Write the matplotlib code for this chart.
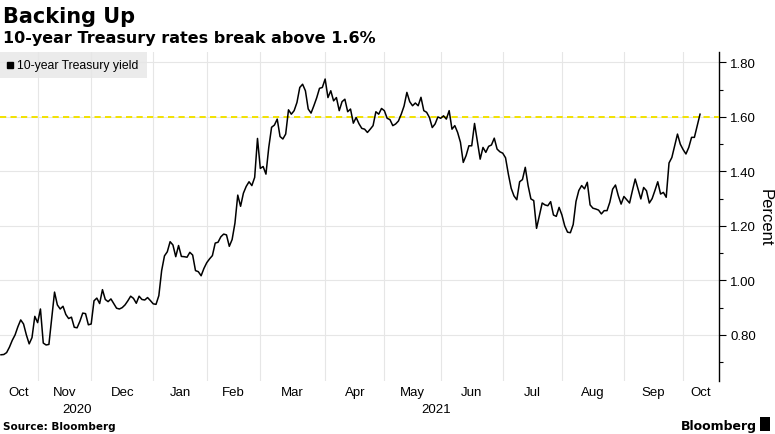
import matplotlib
matplotlib.use("Agg")
import matplotlib.pyplot as plt
from matplotlib import font_manager
from matplotlib.patches import Rectangle
from matplotlib.transforms import blended_transform_factory

# daily 10-year Treasury yield (%), one list per month, trading days only
oct20 = [0.727, 0.728, 0.735, 0.755, 0.78, 0.80, 0.83, 0.855, 0.84, 0.80,
         0.767, 0.79, 0.868]
nov20 = [0.845, 0.895, 0.77, 0.763, 0.765, 0.86, 0.957, 0.91, 0.895, 0.905,
         0.875, 0.86, 0.865, 0.828, 0.826, 0.85, 0.88, 0.878, 0.837]
dec20 = [0.84, 0.925, 0.935, 0.915, 0.966, 0.93, 0.922, 0.932, 0.915, 0.898,
         0.895, 0.90, 0.91, 0.925, 0.942, 0.934, 0.916, 0.942, 0.930, 0.928,
         0.937, 0.926]
jan21 = [0.914, 0.912, 0.944, 1.036, 1.09, 1.105, 1.142, 1.130, 1.087, 1.128,
         1.088, 1.087, 1.085, 1.103, 1.093, 1.036, 1.032, 1.017, 1.044]
feb21 = [1.065, 1.079, 1.091, 1.137, 1.140, 1.16, 1.170, 1.167, 1.125, 1.150,
         1.21, 1.313, 1.272, 1.32, 1.345, 1.362, 1.348, 1.378, 1.521]
mar21 = [1.411, 1.418, 1.39, 1.488, 1.562, 1.570, 1.592, 1.528, 1.519, 1.537,
         1.626, 1.610, 1.623, 1.653, 1.708, 1.720, 1.696, 1.629, 1.614, 1.641,
         1.67, 1.705, 1.708]
apr21 = [1.739, 1.671, 1.696, 1.659, 1.671, 1.623, 1.656, 1.665, 1.619, 1.629,
         1.577, 1.598, 1.575, 1.558, 1.555, 1.543, 1.555, 1.568, 1.619, 1.610,
         1.631]
may21 = [1.623, 1.595, 1.590, 1.568, 1.574, 1.585, 1.610, 1.64, 1.690, 1.656,
         1.641, 1.651, 1.641, 1.672, 1.623, 1.617, 1.598, 1.561, 1.574, 1.600]
jun21 = [1.595, 1.604, 1.592, 1.623, 1.555, 1.568, 1.543, 1.507, 1.433, 1.458,
         1.494, 1.494, 1.576, 1.51, 1.445, 1.488, 1.470, 1.492, 1.497, 1.522,
         1.482, 1.472]
jul21 = [1.467, 1.45, 1.39, 1.338, 1.31, 1.296, 1.362, 1.370, 1.415, 1.348,
         1.299, 1.293, 1.191, 1.238, 1.284, 1.277, 1.274, 1.289, 1.240, 1.235,
         1.268]
aug21 = [1.24, 1.20, 1.177, 1.175, 1.205, 1.29, 1.33, 1.348, 1.336, 1.360,
         1.277, 1.265, 1.262, 1.258, 1.244, 1.256, 1.256, 1.287, 1.335, 1.350,
         1.311, 1.280]
sep21 = [1.308, 1.296, 1.284, 1.329, 1.372, 1.335, 1.299, 1.341, 1.329, 1.284,
         1.30, 1.33, 1.362, 1.317, 1.323, 1.305, 1.431, 1.451, 1.494, 1.537,
         1.50]
oct21 = [1.48, 1.464, 1.488, 1.525, 1.525, 1.567, 1.610]

MONTHS = [oct20, nov20, dec20, jan21, feb21, mar21, apr21, may21, jun21,
          jul21, aug21, sep21, oct21]
MONTH_LABELS = ["Oct", "Nov", "Dec", "Jan", "Feb", "Mar", "Apr", "May",
                "Jun", "Jul", "Aug", "Sep", "Oct"]
YEAR_LABELS = ["2020", "2021"]
Y_TICKS = [0.80, 1.00, 1.20, 1.40, 1.60, 1.80]
Y_MINOR = [0.70, 0.90, 1.10, 1.30, 1.50, 1.70]
THRESHOLD = 1.60

# Bloomberg's axis face is narrow; take the narrowest installed match
available = {f.name for f in font_manager.fontManager.ttflist}
NARROW = "Liberation Sans"
for name in ("Liberation Sans Narrow", "Liberation Sans", "DejaVu Sans"):
    if name in available:
        NARROW = name
        break

yields = [v for m in MONTHS for v in m]
x = list(range(len(yields)))
starts = []
pos = 0
for m in MONTHS:
    starts.append(pos)
    pos += len(m)

XMIN, XMAX = -0.35, 254.8

fig = plt.figure(figsize=(7.75, 4.35), dpi=100)
ax = fig.add_axes([0.0, 0.122, 0.928, 0.756])

ax.plot(x, yields, color="black", lw=1.1, zorder=4, solid_joinstyle="round")
ax.axhline(THRESHOLD, color="#f2e200", lw=1.4, dashes=(3.2, 2.2), zorder=3)

ax.set_xlim(XMIN, XMAX)
ax.set_ylim(0.631, 1.838)

# month gridlines at first trading day, labels centred within month
ax.set_xticks(starts[1:])
ax.set_xticklabels([])
bounds = [XMIN] + starts[1:] + [XMAX]
centers = [(bounds[i] + bounds[i + 1]) / 2 for i in range(len(MONTHS))]
ax.set_xticks(centers, minor=True)
ax.set_xticklabels(MONTH_LABELS, minor=True, family=NARROW, fontsize=9.5)
ax.tick_params(axis="x", which="both", length=0, pad=4)

ax.yaxis.tick_right()
ax.set_yticks(Y_TICKS)
ax.set_yticklabels([f"{v:.2f}" for v in Y_TICKS], family=NARROW,
                   fontsize=9.5)
ax.set_yticks(Y_MINOR, minor=True)
ax.tick_params(axis="y", which="major", length=5, width=0.8, pad=3)
ax.tick_params(axis="y", which="minor", length=3, width=0.8)

ax.grid(True, which="major", color="#e6e6e6", lw=0.8)
ax.set_axisbelow(True)
for s in ("top", "left", "bottom"):
    ax.spines[s].set_visible(False)
ax.spines["right"].set_linewidth(1.0)

# year labels under the month row
trans = blended_transform_factory(ax.transData, ax.transAxes)
ax.text((XMIN + starts[3]) / 2, -0.068, YEAR_LABELS[0], transform=trans,
        ha="center", va="top", family=NARROW, fontsize=9.5)
ax.text((starts[3] + XMAX) / 2, -0.068, YEAR_LABELS[1], transform=trans,
        ha="center", va="top", family=NARROW, fontsize=9.5)

# legend strip in the top-left corner
ax.add_patch(Rectangle((0, 0.921), 0.2045, 0.079, transform=ax.transAxes,
                       facecolor="#ebebeb", edgecolor="none", zorder=0))
ax.plot([0.0133], [0.96], marker="s", ms=5, color="black",
        transform=ax.transAxes, zorder=5, clip_on=False)
ax.text(0.023, 0.96, "10-year Treasury yield", transform=ax.transAxes,
        ha="left", va="center", family=NARROW, fontsize=8.8, zorder=5)

fig.text(0.987, 0.5, "Percent", rotation=270, family=NARROW, fontsize=12,
         ha="center", va="center")
fig.text(0.004, 0.948, "Backing Up", fontsize=15, fontweight="bold",
         ha="left", va="baseline")
fig.text(0.004, 0.900, "10-year Treasury rates break above 1.6%",
         fontsize=11.5, fontweight="bold", ha="left", va="baseline")
fig.text(0.004, 0.012, "Source: Bloomberg", fontsize=7.5, fontweight="bold",
         ha="left", va="baseline")
fig.text(0.976, 0.012, "Bloomberg", fontsize=9, fontweight="bold",
         ha="right", va="baseline")
fig.patches.append(Rectangle((0.981, 0.008), 0.013, 0.032,
                             transform=fig.transFigure, facecolor="black",
                             edgecolor="none"))

fig.savefig("out.png", dpi=100)
